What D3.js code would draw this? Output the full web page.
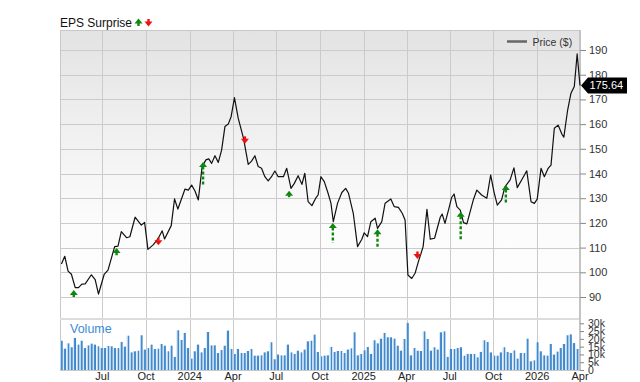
<!DOCTYPE html>
<html>
<head>
<meta charset="utf-8">
<script src="https://cdn.jsdelivr.net/npm/d3@7"></script>
<style>
  body { margin: 0; background: #fff; }
  svg { display: block; font-family: "Liberation Sans", Arial, sans-serif; }
</style>
</head>
<body>
<div id="chart"></div>
<script>
// price line: days counted from startDate, closing price in $
var startDate = "2023-04-03";
var priceDays = [3,10,17,24,32,39,46,53,66,74,81,93,101,115,122,129,140,147,158,171,178,185,196,206,215,220,234,241,248,
  263,270,277,284,291,299,307,313,319,326,333,340,347,354,360,367,375,386,396,403,410,417,424,431,438,445,452,459,470,477,486,493,501,509,515,522,530,538,543,
  549,556,564,570,575,584,593,601,607,617,626,635,640,647,654,663,668,677,684,696,703,712,720,726,732,740,747,754,764,772,779,788,800,804,810,817,824,
  829,835,842,849,856,870,877,887,898,906,913,920,929,936,947,955,962,973,982,991,998,1004,1012,1019,1027,1033,1040,1048,1056,1060,1068,1075,1082,1088,1094];
var priceValues = [103.4,106.5,100.5,99.2,93.8,93.8,95.2,95.3,99,97,91.2,99.2,100.9,110.4,110.6,116.5,114,114.4,122.3,119.1,120.2,109.3,111.1,113.5,116.8,113.5,118.9,129.7,125.6,
  133.7,133.3,135.3,132.9,129.3,142.8,145.5,145.9,144.1,147.2,144.5,149.5,159,160,163,170.7,162.3,154.3,143.7,145,147.2,142.8,142.1,138.7,137,138.7,141,138.7,138.7,142.1,134,136,139.1,135.6,140.1,128.6,127,130,131.3,
  138.7,136.7,132,128,120.5,128,132.3,134,132,123.9,110.4,113.4,116,114.4,120.5,121.9,117.8,120.5,128,129.7,126.6,126.3,123.9,121.2,98.9,97.5,99.6,104.3,110.4,125.5,113.4,113.8,122.3,123.6,119.8,125,130.3,
  131.7,126.6,125.2,120.1,119.6,129.6,133.3,131.3,130,139.4,132.6,127.2,129.3,134.6,137.4,142.3,134.3,138,141.1,128.6,127.9,129.6,142.1,138.7,142.1,143.4,158.3,159.6,155.9,154.7,165.7,172.5,175.2,188.4,175.64];
var lastPrice = 175.64;

// weekly volume (thousands), first week starting volumeStart
var volumeStart = "2023-04-06";
var volumes = [18.8,13.7,17.1,14.6,20.6,16.3,18.8,14.1,15.8,16.9,16.3,15.2,14.1,14.1,15.4,15.2,14.1,14.1,18,15,
  22,11.3,12,12.4,22.3,13.1,14.1,16.3,13.5,13.7,16.7,15.6,12,15.6,8.4,25.5,19.3,23.8,14.1,7.3,
  12,16.3,11.3,14.1,24.4,15.8,15.8,10.9,12.8,15.6,25.3,13.5,10.3,13.5,10.9,10.9,12.2,13.5,9.2,9.2,
  9.4,11.3,12,17.8,6.9,9.9,9.4,9.4,16.3,11.3,10.3,12.4,11.3,13.1,18.4,18.8,22.7,
  11.6,8.8,9.2,9.4,14.8,11.6,12.2,12.2,10.9,13.1,13.9,24.2,9.4,10.3,12.6,14.8,10.3,19.1,17.1,20.1,
  23.8,21,21,20.1,15.6,12.4,19.9,30.2,9.4,14.1,12.4,12.2,24.8,19.9,12.4,14.6,13.1,24.2,24.8,8.4,
  13.5,13.5,14.1,14.6,9.2,10.3,10.3,10.3,8.1,11.6,19.1,18,11.3,9.2,9.2,11.3,14.6,11.6,10.9,12.6,
  7.3,10.9,10.9,20.1,5.6,6.2,17.8,12,9.4,9.2,16.7,9.9,11.8,14.1,16.7,22.3,22.9,17.3,13.5];

// earnings surprises: arrow tip sits near the price, tail shows the size
var epsDates = ["2023-05-02","2023-07-31","2023-10-27","2024-01-29","2024-04-26","2024-07-28","2024-10-28","2025-01-30","2025-04-24","2025-07-24","2025-10-27"];
var epsTypes = ["beat","beat","miss","beat","miss","beat","beat","beat","miss","beat","beat"];
var epsTip   = [92.8,109.8,111,144.7,152,133,120,117.4,105.4,124.5,135.3];
var epsTail  = [90,106.9,114.4,135.3,155.2,130.4,112,110.1,109,113,128];

var priceTicks = [90,100,110,120,130,140,150,160,170,180,190];
var volumeTicks = [0,5,10,15,20,25,30];
var quarterDates = ["2023-07-01","2023-10-01","2024-01-01","2024-04-01","2024-07-01","2024-10-01","2025-01-01","2025-04-01","2025-07-01","2025-10-01","2026-01-01","2026-04-01"];
var quarterLabels = ["Jul","Oct","2024","Apr","Jul","Oct","2025","Apr","Jul","Oct","2026","Apr"];

var width = 640, height = 382;
var plotLeft = 60, plotRight = 580, plotTop = 30, priceBottom = 318, volTop = 320, volBottom = 370;
var green = "#0e870e", red = "#f01010";

var parse = d3.timeParse("%Y-%m-%d");
var start = parse(startDate);

var price = priceDays.map(function(d, i) { return {date: d3.timeDay.offset(start, d), value: priceValues[i]}; });
var vol = volumes.map(function(v, i) { return {date: d3.timeWeek.offset(parse(volumeStart), i), value: v}; });
var eps = epsDates.map(function(d, i) { return {date: parse(d), type: epsTypes[i], tip: epsTip[i], tail: epsTail[i]}; });

var x = d3.scaleTime().domain([start, parse("2026-04-01")]).range([plotLeft, plotRight]);
var y = d3.scaleLinear().domain([81.5, 198.1]).range([priceBottom, plotTop]);
var yv = d3.scaleLinear().domain([0, 32.1]).range([volBottom, volTop]);

var svg = d3.select("#chart").append("svg")
  .attr("width", width)
  .attr("height", height);

var defs = svg.append("defs");
var bg = defs.append("linearGradient").attr("id", "bg").attr("x1", 0).attr("x2", 0).attr("y1", 0).attr("y2", 1);
bg.append("stop").attr("offset", "0%").attr("stop-color", "#e3e3e3");
bg.append("stop").attr("offset", "65%").attr("stop-color", "#fbfbfb");
bg.append("stop").attr("offset", "100%").attr("stop-color", "#ffffff");
var bar = defs.append("linearGradient").attr("id", "bar").attr("x1", 0).attr("x2", 1).attr("y1", 0).attr("y2", 0);
bar.append("stop").attr("offset", "0%").attr("stop-color", "#b9d6f2");
bar.append("stop").attr("offset", "35%").attr("stop-color", "#b9d6f2");
bar.append("stop").attr("offset", "36%").attr("stop-color", "#4a8fd0");
bar.append("stop").attr("offset", "100%").attr("stop-color", "#3b82c6");

// panels
svg.append("rect").attr("x", plotLeft).attr("y", plotTop).attr("width", plotRight - plotLeft).attr("height", priceBottom - plotTop).attr("fill", "url(#bg)");
svg.append("rect").attr("x", plotLeft).attr("y", volTop).attr("width", plotRight - plotLeft).attr("height", volBottom - volTop).attr("fill", "#fff");

// grid
svg.append("g").selectAll("line").data(quarterDates).enter().append("line")
  .attr("x1", function(d) { return Math.round(x(parse(d))) + 0.5; })
  .attr("x2", function(d) { return Math.round(x(parse(d))) + 0.5; })
  .attr("y1", plotTop).attr("y2", volBottom)
  .attr("stroke", "#cbcbcb");
svg.append("g").selectAll("line").data(priceTicks).enter().append("line")
  .attr("x1", plotLeft).attr("x2", plotRight)
  .attr("y1", function(d) { return Math.round(y(d)) + 0.5; })
  .attr("y2", function(d) { return Math.round(y(d)) + 0.5; })
  .attr("stroke", "#cbcbcb");

// frame and separator
svg.append("rect").attr("x", plotLeft + 0.5).attr("y", plotTop + 0.5).attr("width", plotRight - plotLeft - 1).attr("height", volBottom - plotTop)
  .attr("fill", "none").attr("stroke", "#c8c8c8");
svg.append("rect").attr("x", plotLeft).attr("y", priceBottom).attr("width", plotRight - plotLeft).attr("height", volTop - priceBottom).attr("fill", "#dcdcdc");
svg.append("line").attr("x1", plotRight).attr("x2", plotRight).attr("y1", plotTop).attr("y2", volBottom + 1)
  .attr("stroke", "#c4c4c4").attr("stroke-width", 2);

// volume bars
svg.append("g").selectAll("rect").data(vol).enter().append("rect")
  .attr("x", function(d) { return x(d.date) - 1.3; })
  .attr("width", 2.6)
  .attr("y", function(d) { return yv(d.value); })
  .attr("height", function(d) { return volBottom - yv(d.value); })
  .attr("fill", "url(#bar)");

svg.append("text").attr("x", 70).attr("y", 333).attr("fill", "#3b8bd2").style("font-size", "12.5px").text("Volume");

// price line
var line = d3.line().x(function(d) { return x(d.date); }).y(function(d) { return y(d.value); });
svg.append("path").datum(price)
  .attr("d", line)
  .attr("fill", "none")
  .attr("stroke", "#111")
  .attr("stroke-width", 1.2)
  .attr("stroke-linejoin", "round");

// arrow: tip at yTip, dashed tail to yTail
function arrow(g, cx, yTip, yTail, color) {
  var s = yTail > yTip ? 1 : -1;
  g.append("line").attr("x1", cx).attr("x2", cx).attr("y1", yTip + 4.5 * s).attr("y2", yTail)
    .attr("stroke", color).attr("stroke-width", 2.4).attr("stroke-dasharray", "3,2");
  g.append("path")
    .attr("d", "M" + cx + "," + yTip + "L" + (cx - 4) + "," + (yTip + 5 * s) + "L" + (cx + 4) + "," + (yTip + 5 * s) + "Z")
    .attr("fill", color);
}

var epsG = svg.append("g");
eps.forEach(function(d) {
  arrow(epsG, x(d.date), y(d.tip), y(d.tail), d.type === "beat" ? green : red);
});

// right axes
var priceAxis = svg.append("g").attr("transform", "translate(" + plotRight + ",0)")
  .call(d3.axisRight(y).tickValues(priceTicks).tickSize(6).tickPadding(3));
var volAxis = svg.append("g").attr("transform", "translate(" + plotRight + ",0)")
  .call(d3.axisRight(yv).tickValues(volumeTicks).tickSize(4).tickPadding(4)
    .tickFormat(function(d) { return d ? d + "k" : "0"; }));
[priceAxis, volAxis].forEach(function(a) {
  a.select(".domain").remove();
  a.selectAll("line").attr("stroke", "#888");
  a.selectAll("text").attr("fill", "#333").style("font-size", "11px").style("font-family", "Liberation Sans, Arial, sans-serif");
});
volAxis.selectAll("text").style("font-size", "10.5px");

// x labels
svg.append("g").selectAll("text").data(quarterDates).enter().append("text")
  .attr("x", function(d) { return x(parse(d)); })
  .attr("y", 380)
  .attr("text-anchor", "middle")
  .attr("fill", "#222")
  .style("font-size", "11px")
  .text(function(d, i) { return quarterLabels[i]; });

// title
svg.append("text").attr("x", 60).attr("y", 27).attr("fill", "#111").style("font-size", "12px").text("EPS Surprise");
var key = svg.append("g");
arrow(key, 138.5, 18.5, 26.5, green);
arrow(key, 148.5, 26.5, 18.5, red);

// legend
svg.append("line").attr("x1", 507).attr("x2", 527).attr("y1", 41.5).attr("y2", 41.5).attr("stroke", "#666").attr("stroke-width", 2.5);
svg.append("text").attr("x", 532.5).attr("y", 45.5).attr("fill", "#333").style("font-size", "10.5px").text("Price ($)");

// last price tag
var ly = y(lastPrice);
svg.append("path")
  .attr("d", "M581," + ly + "L588," + (ly - 8) + "L627," + (ly - 8) + "L627," + (ly + 8) + "L588," + (ly + 8) + "Z")
  .attr("fill", "#000");
svg.append("text").attr("x", 589.5).attr("y", ly + 4).attr("fill", "#fff").style("font-size", "11px").text(lastPrice.toFixed(2));
</script>
</body>
</html>
